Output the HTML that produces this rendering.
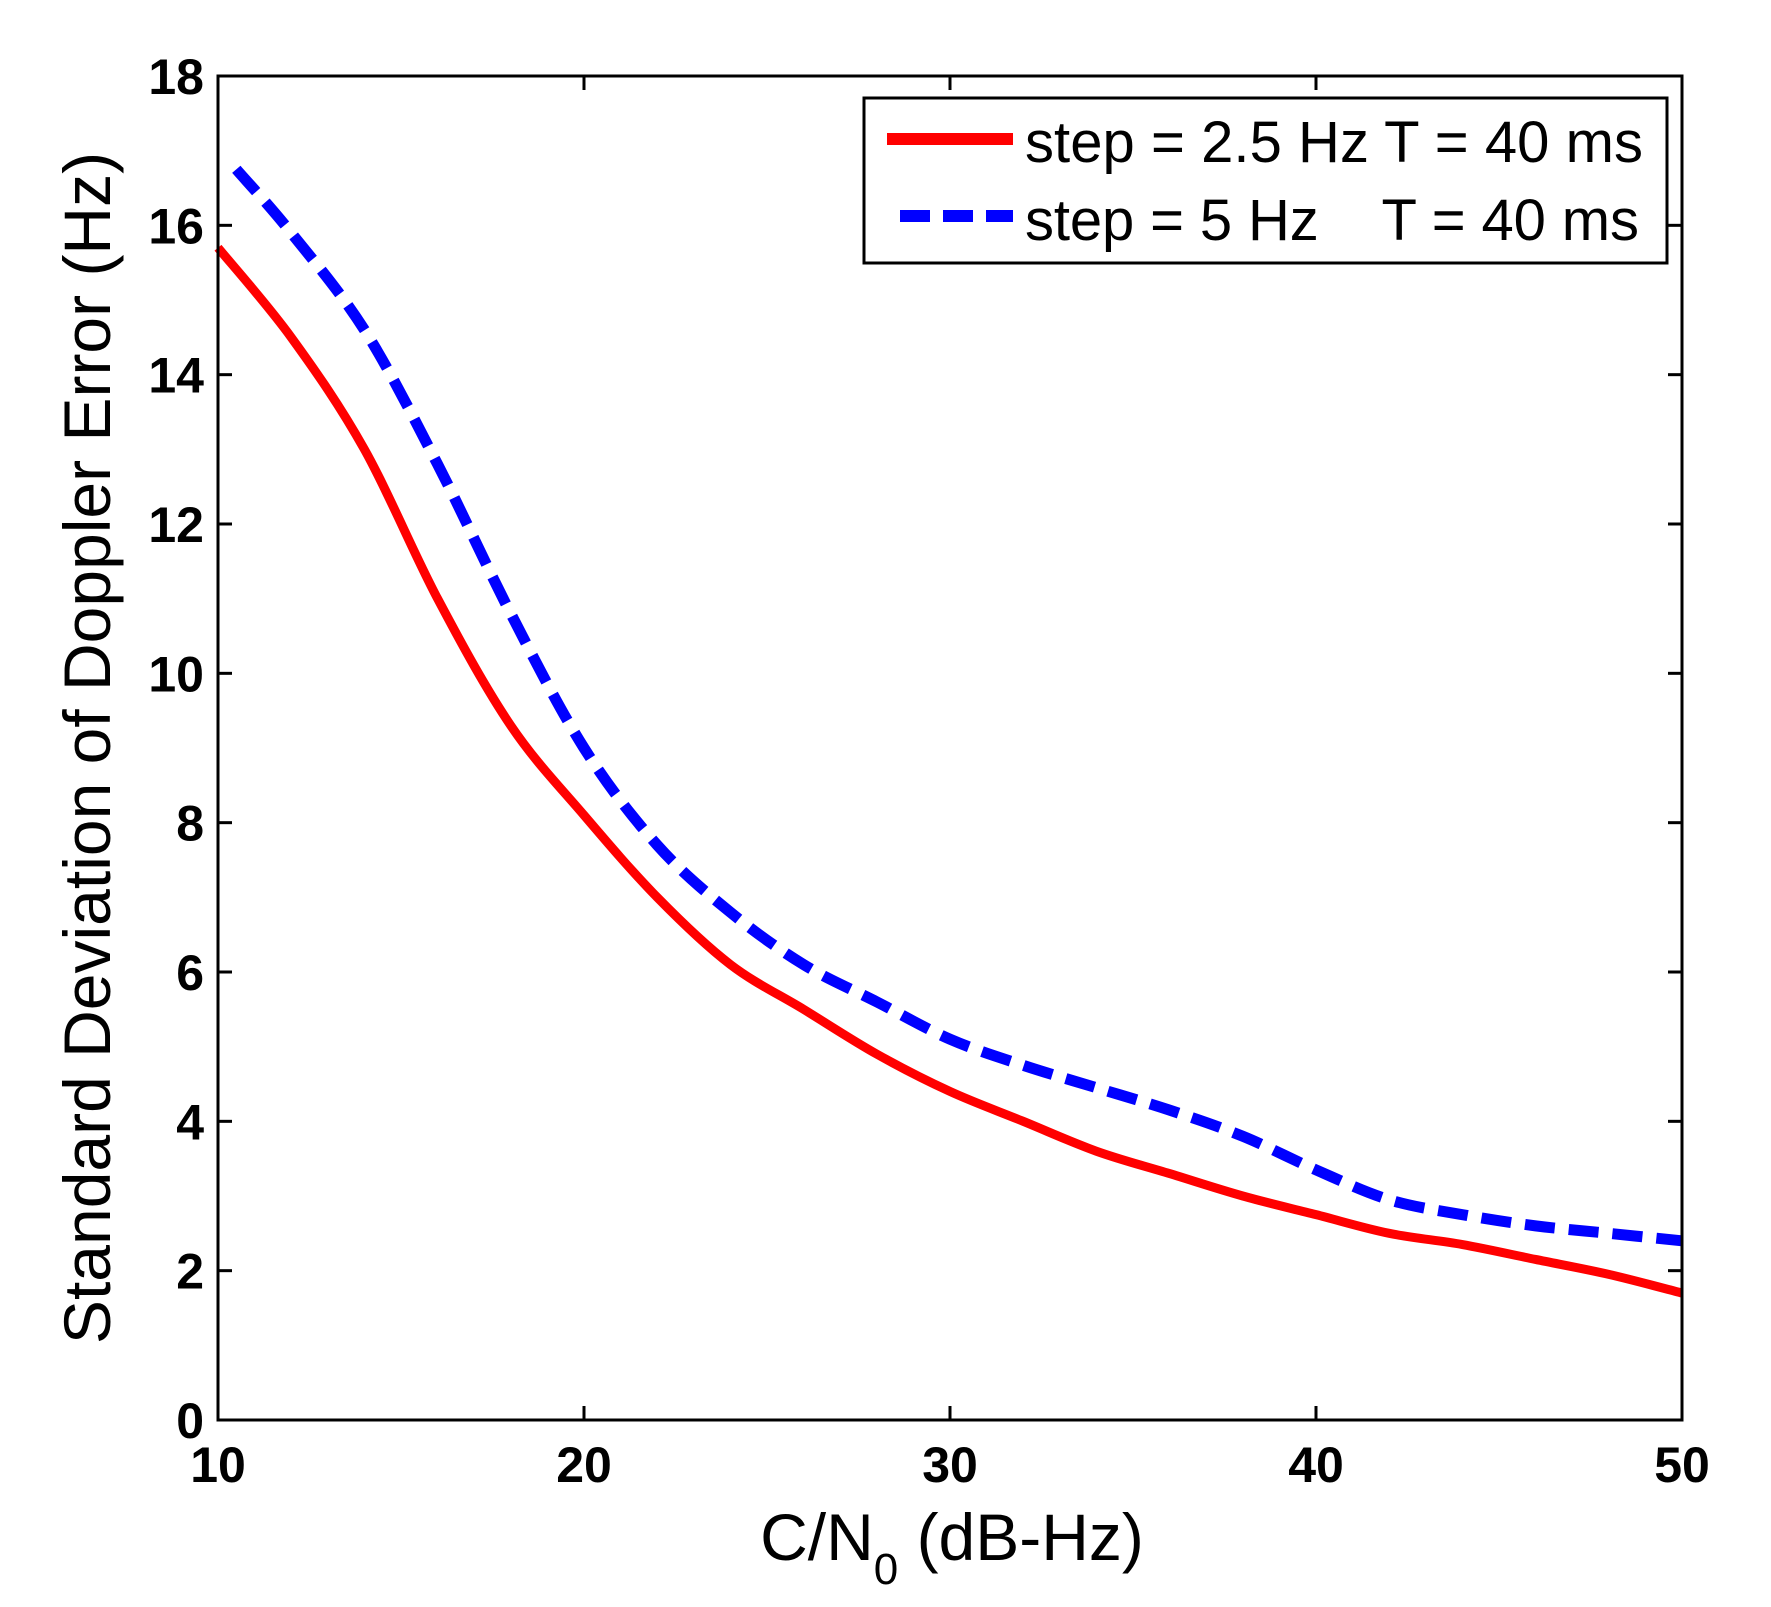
<!DOCTYPE html>
<html><head><meta charset="utf-8"><style>
html,body{margin:0;padding:0;background:#fff;}
svg{display:block;}
text{font-family:"Liberation Sans",Arial,sans-serif;fill:#000;}
</style></head><body>
<svg id="chart" width="1771" height="1607" viewBox="0 0 1771 1607">
<rect x="0" y="0" width="1771" height="1607" fill="#fff"/>
<g id="ticks"></g>
<g id="series"></g>
<rect x="218" y="76" width="1464" height="1344" fill="none" stroke="#000" stroke-width="3"/>
<text x="952" y="1560" font-size="66" text-anchor="middle">C/N<tspan font-size="44" dy="24">0</tspan><tspan dy="-24"> (dB-Hz)</tspan></text>
<text transform="translate(110,748) rotate(-90)" font-size="66" text-anchor="middle">Standard Deviation of Doppler Error (Hz)</text>
<g>
<rect x="864" y="98" width="803" height="165" fill="#fff" stroke="#000" stroke-width="3"/>
<line x1="887" y1="139" x2="1013" y2="139" stroke="#f00" stroke-width="12"/>
<text x="1025" y="162" font-size="58" textLength="618">step = 2.5 Hz T = 40 ms</text>
<line x1="900" y1="216" x2="1013" y2="216" stroke="#00f" stroke-width="12" stroke-dasharray="30 13"/>
<text x="1025" y="240" font-size="58" textLength="614" xml:space="preserve">step = 5 Hz    T = 40 ms</text>
</g>
</svg>
<script>
const xTicks = [10, 20, 30, 40, 50];
const yTicks = [0, 2, 4, 6, 8, 10, 12, 14, 16, 18];
const redX = [10, 12, 14, 16, 18, 20, 22, 24, 26, 28, 30, 32, 34, 36, 38, 40, 42, 44, 46, 48, 50];
const redY = [15.7, 14.5, 13.0, 11.0, 9.3, 8.1, 7.0, 6.1, 5.5, 4.9, 4.4, 4.0, 3.6, 3.3, 3.0, 2.75, 2.5, 2.35, 2.15, 1.95, 1.7];
const blueX = [10.5, 12, 14, 16, 18, 20, 22, 24, 26, 28, 30, 32, 34, 36, 38, 40, 42, 44, 46, 48, 50];
const blueY = [16.75, 15.9, 14.6, 12.8, 10.8, 9.0, 7.7, 6.8, 6.1, 5.6, 5.1, 4.75, 4.45, 4.15, 3.8, 3.35, 2.95, 2.75, 2.6, 2.5, 2.4];

const L=218,R=1682,T=76,B=1420;
function xs(v){return L+(v-10)/40*(R-L);}
function ys(v){return B-v/18*(B-T);}
const NS="http://www.w3.org/2000/svg";
const tg=document.getElementById('ticks');
xTicks.forEach(v=>{
  const x=xs(v);
  [[B,B-14],[T,T+14]].forEach(p=>{
    const l=document.createElementNS(NS,'line');
    l.setAttribute('x1',x);l.setAttribute('x2',x);l.setAttribute('y1',p[0]);l.setAttribute('y2',p[1]);
    l.setAttribute('stroke','#000');l.setAttribute('stroke-width','3');
    
    
    tg.appendChild(l);
  });
  const t=document.createElementNS(NS,'text');
  t.setAttribute('x',x);t.setAttribute('y',B+62);t.setAttribute('font-size','50');t.setAttribute('font-weight','bold');t.setAttribute('text-anchor','middle');
  t.textContent=v;
  
  
  tg.appendChild(t);
});
yTicks.forEach(v=>{
  const y=ys(v);
  [[L,L+14],[R,R-14]].forEach(p=>{
    const l=document.createElementNS(NS,'line');
    l.setAttribute('x1',p[0]);l.setAttribute('x2',p[1]);l.setAttribute('y1',y);l.setAttribute('y2',y);
    l.setAttribute('stroke','#000');l.setAttribute('stroke-width','3');
    
    
    tg.appendChild(l);
  });
  const t=document.createElementNS(NS,'text');
  t.setAttribute('x',L-14);t.setAttribute('y',y+18);t.setAttribute('font-size','50');t.setAttribute('font-weight','bold');t.setAttribute('text-anchor','end');
  t.textContent=v;
  
  
  tg.appendChild(t);
});
const sg=document.getElementById('series');
function smoothPath(pts){
  let d='M'+pts[0][0]+','+pts[0][1];
  for(let i=0;i<pts.length-1;i++){
    const p0=pts[Math.max(0,i-1)],p1=pts[i],p2=pts[i+1],p3=pts[Math.min(pts.length-1,i+2)];
    const c1=[p1[0]+(p2[0]-p0[0])/6,p1[1]+(p2[1]-p0[1])/6];
    const c2=[p2[0]-(p3[0]-p1[0])/6,p2[1]-(p3[1]-p1[1])/6];
    d+=' C'+c1[0]+','+c1[1]+' '+c2[0]+','+c2[1]+' '+p2[0]+','+p2[1];
  }
  return d;
}
function line(xa,ya,color,dash,name){
  const p=document.createElementNS(NS,'path');
  p.setAttribute('d',smoothPath(xa.map((x,i)=>[xs(x),ys(ya[i])])));
  p.setAttribute('fill','none');p.setAttribute('stroke',color);p.setAttribute('stroke-width',dash?'11':'9');
  p.setAttribute('stroke-linejoin','round');
  if(dash)p.setAttribute('stroke-dasharray',dash);
  
  
  sg.appendChild(p);
}
line(redX,redY,'#f00',null,'series-step-2-5hz');
line(blueX,blueY,'#00f','30 14','series-step-5hz');
</script>
</body></html>
